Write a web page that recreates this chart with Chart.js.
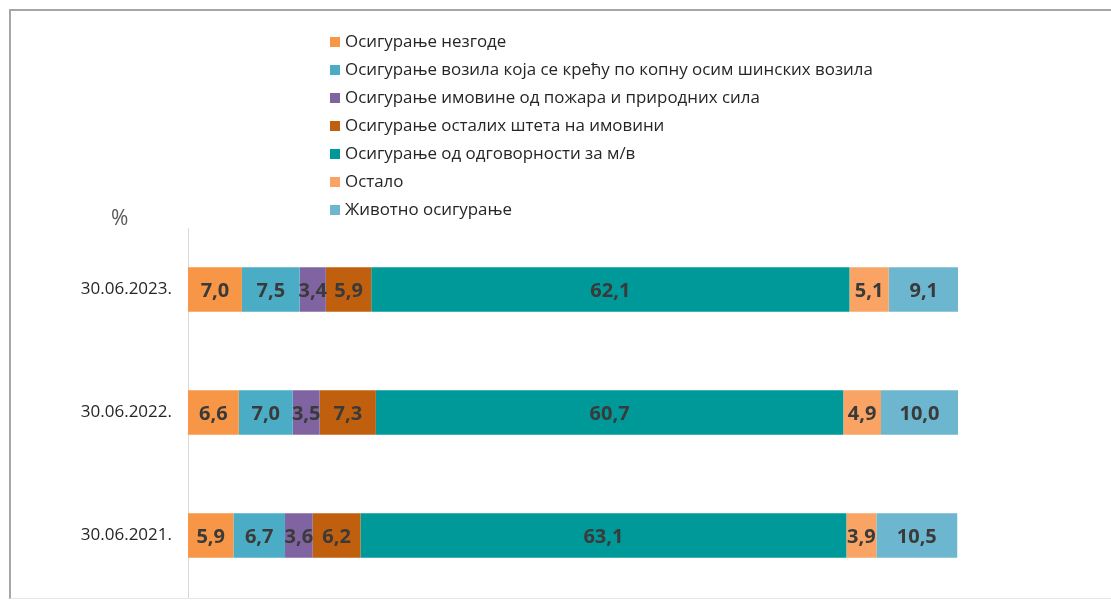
<!DOCTYPE html>
<html>
<head>
<meta charset="utf-8">
<script src="https://cdn.jsdelivr.net/npm/chart.js@4.4.1/dist/chart.umd.min.js"></script>
<style>
  html, body { margin: 0; padding: 0; background: #fff; }
  #wrap { position: relative; width: 1111px; height: 601px; overflow: hidden; }
  #frame { position: absolute; left: 9px; top: 9px; width: 1110px; height: 590px;
           border-top: 2px solid #a6a6a6; border-left: 2px solid #a6a6a6; border-bottom: 1px solid #e6e6e6; box-sizing: border-box; }
  #legend { position: absolute; left: 330px; top: 27px; font-family: "Open Sans", sans-serif; font-size: 16.9px; color: #262626; }
  .li { height: 28px; line-height: 28px; white-space: nowrap; }
  .sw { display: inline-block; width: 10px; height: 10px; margin-right: 5px; vertical-align: 0px; }
  #pct { position: absolute; left: 111px; top: 203px; font-family: "Open Sans", sans-serif; font-size: 21px; color: #595959; }
  canvas { position: absolute; left: 0; top: 0; }
</style>
</head>
<body>
<div id="wrap">
  <div id="frame"></div>
  <canvas id="c" width="1111" height="601"></canvas>
  <div id="legend"></div>
  <div id="pct">%</div>
</div>
<script>
const categories = ["30.06.2023.", "30.06.2022.", "30.06.2021."];
const seriesNames = [
  "Осигурање незгоде",
  "Осигурање возила која се крећу по копну осим шинских возила",
  "Осигурање имовине од пожара и природних сила",
  "Осигурање осталих штета на имовини",
  "Осигурање од одговорности за м/в",
  "Остало",
  "Животно осигурање"
];
const nezgode   = [7.0, 6.6, 5.9];
const vozila    = [7.5, 7.0, 6.7];
const pozar     = [3.4, 3.5, 3.6];
const ostaleSt  = [5.9, 7.3, 6.2];
const odgovorn  = [62.1, 60.7, 63.1];
const ostalo    = [5.1, 4.9, 3.9];
const zivotno   = [9.1, 10.0, 10.5];
const seriesValues = [nezgode, vozila, pozar, ostaleSt, odgovorn, ostalo, zivotno];
const colors = ["#F79646", "#4BACC6", "#8064A2", "#C0600E", "#009999", "#F9A464", "#6CB7CF"];

// legend
const leg = document.getElementById('legend');
seriesNames.forEach((n, i) => {
  const d = document.createElement('div');
  d.className = 'li';
  d.innerHTML = '<span class="sw" style="background:' + colors[i] + '"></span>' + n;
  leg.appendChild(d);
});

const labelPlugin = {
  id: 'vals',
  afterDatasetsDraw(chart) {
    const ctx = chart.ctx;
    ctx.save();
    ctx.font = 'bold 20px "Open Sans", sans-serif';
    ctx.fillStyle = '#3a3a3a';
    ctx.textAlign = 'center';
    ctx.textBaseline = 'middle';
    chart.data.datasets.forEach((ds, di) => {
      chart.getDatasetMeta(di).data.forEach((bar, i) => {
        const v = ds.data[i];
        const x = (bar.x + bar.base) / 2;
        ctx.fillText(v.toFixed(1).replace('.', ','), x, bar.y + 2);
      });
    });
    ctx.restore();
  }
};

new Chart(document.getElementById('c'), {
  type: 'bar',
  data: {
    labels: categories,
    datasets: seriesNames.map((n, i) => ({
      label: n,
      data: seriesValues[i],
      backgroundColor: colors[i],
      borderWidth: 0,
      barPercentage: 0.36,
      categoryPercentage: 1
    }))
  },
  options: {
    indexAxis: 'y',
    responsive: false,
    animation: false,
    layout: { padding: { top: 228, right: 153, bottom: 4, left: 0 } },
    plugins: { legend: { display: false }, tooltip: { enabled: false } },
    scales: {
      x: { stacked: true, display: false, min: 0, max: 100 },
      y: {
        stacked: true,
        grid: { display: false },
        border: { display: true, color: '#d9d9d9', width: 1 },
        ticks: { color: '#262626', font: { family: '"Open Sans", sans-serif', size: 17 }, padding: 8 },
        afterFit(s) { s.width = 188; s.paddingTop = 0; s.paddingBottom = 0; }
      }
    }
  },
  plugins: [labelPlugin]
});
</script>
</body>
</html>
